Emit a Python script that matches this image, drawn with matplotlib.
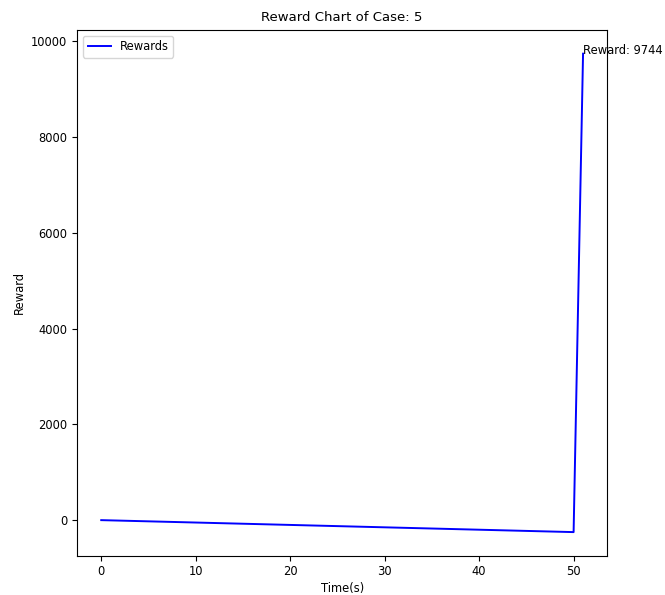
import matplotlib
matplotlib.use("Agg")
import matplotlib.pyplot as plt

# Reward per time step for case 5
time_s = list(range(52))
rewards = [0, -5, -10, -15, -20, -25, -30, -35, -40, -45,
           -50, -55, -60, -65, -70, -75, -80, -85, -90, -95,
           -100, -105, -110, -115, -120, -125, -130, -135, -140, -145,
           -150, -155, -160, -165, -170, -175, -180, -185, -190, -195,
           -200, -205, -210, -215, -220, -225, -230, -235, -240, -245,
           -250, 9744]
case_id = 5

plt.rcParams["font.size"] = 8.3

fig = plt.figure(figsize=(6.65, 5.95), dpi=100)
ax = fig.add_axes([0.116, 0.0655, 0.797, 0.8845])

ax.plot(time_s, rewards, color="blue", linewidth=1.4, label="Rewards")
ax.text(time_s[-1], rewards[-1], f"Reward: {rewards[-1]}")

ax.set_title(f"Reward Chart of Case: {case_id}", fontsize=9.5)
ax.set_xlabel("Time(s)", labelpad=2.5)
ax.set_ylabel("Reward")
ax.tick_params(axis="x", pad=3)
ax.legend(loc="upper left")

fig.savefig("out.png", dpi=100)
